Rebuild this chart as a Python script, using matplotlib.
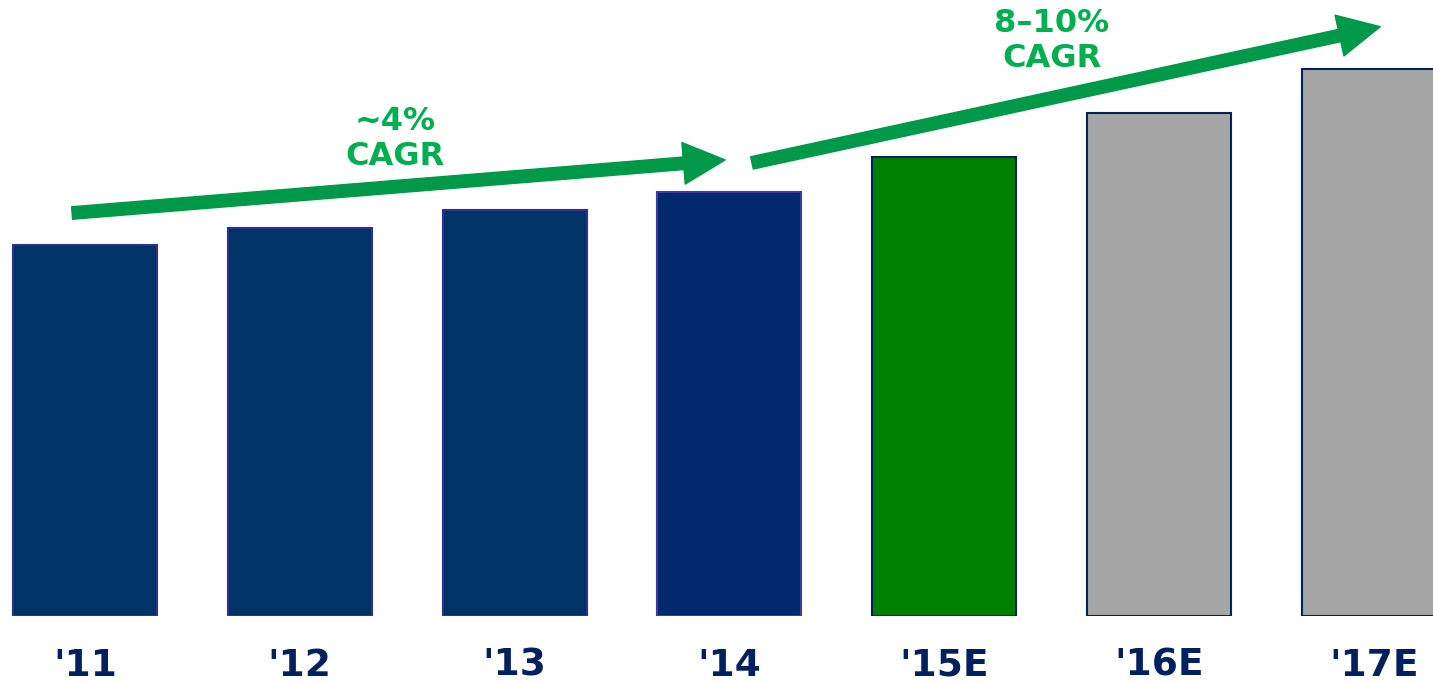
import matplotlib.pyplot as plt
from matplotlib.patches import FancyArrowPatch

# Index values ('11 = 100)
years = ["'11", "'12", "'13", "'14", "'15E", "'16E", "'17E"]
values = [100.0, 104.6, 109.4, 114.3, 123.7, 135.6, 147.4]
bar_colors = ['#003366', '#003366', '#003366', '#002970', '#008000', '#A6A6A6', '#A6A6A6']
edge_colors = ['#2E3192', '#2E3192', '#2E3192', '#3B3BA0', '#002060', '#002060', '#002060']

fig = plt.figure(figsize=(14.33, 6.83), dpi=100)
ax = fig.add_axes([0, 67 / 683, 1, 616 / 683])

x = range(len(years))
ax.bar(x, values, width=0.67, color=bar_colors, edgecolor=edge_colors, linewidth=1.5)

ax.set_xlim(-0.3957, 6.2756)
ax.set_ylim(0, 166.0)

ax.set_xticks(list(x))
ax.set_xticklabels(years, fontsize=27, fontweight='bold', color='#002060')
ax.tick_params(axis='x', length=0, pad=23)
ax.set_yticks([])
for s in ax.spines.values():
    s.set_visible(False)

# CAGR arrows
arrow_color = '#00994A'
style = 'simple,head_length=30,head_width=30,tail_width=9'
a1 = FancyArrowPatch((-0.06, 108.6), (2.98, 122.9), arrowstyle=style,
                     mutation_scale=1, color=arrow_color, shrinkA=0, shrinkB=0,
                     clip_on=False)
a2 = FancyArrowPatch((3.105, 122.1), (6.03, 158.8), arrowstyle=style,
                     mutation_scale=1, color=arrow_color, shrinkA=0, shrinkB=0,
                     clip_on=False)
ax.add_patch(a1)
ax.add_patch(a2)

text_color = '#00B050'
ax.text(1.445, 128.6, '~4%\nCAGR', ha='center', va='center', fontsize=23,
        fontweight='bold', color=text_color, linespacing=1.15)
ax.text(4.5, 155.0, '8\u201310%\nCAGR', ha='center', va='center', fontsize=23,
        fontweight='bold', color=text_color, linespacing=1.15)

fig.savefig('out.png', dpi=100)
